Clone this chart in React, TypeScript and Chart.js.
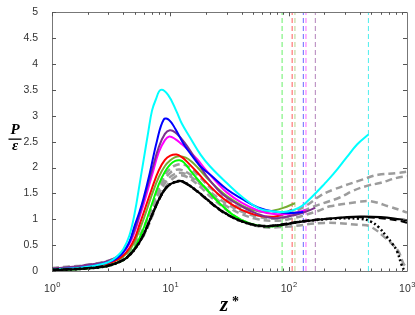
import React, { useEffect, useRef } from "react";
import { Chart, registerables } from "chart.js";

Chart.register(...registerables);

// ---- axis ticks ----
const xMajorTicks = [1, 10, 100, 1000];
const xTickExponents = ["0", "1", "2", "3"];
const yTickValues = [0, 0.5, 1, 1.5, 2, 2.5, 3, 3.5, 4, 4.5, 5];

// ---- series data (z*, P/eps) ----
const cyanX = [1, 1.5, 2, 2.5, 3, 3.5, 4, 4.5, 5, 5.5, 6, 6.5, 7, 7.5, 8.3, 9.6, 11.3, 12.5, 14.5, 18, 21.7, 30, 41, 57, 75, 90, 110, 130, 160, 200, 240, 310, 380, 472];
const cyanY = [0.03, 0.05, 0.08, 0.12, 0.17, 0.27, 0.42, 0.68, 1.12, 1.68, 2.2, 2.68, 3.1, 3.3, 3.5, 3.4, 3.08, 2.85, 2.6, 2.25, 2.02, 1.7, 1.42, 1.2, 1.15, 1.14, 1.18, 1.26, 1.45, 1.68, 1.88, 2.2, 2.45, 2.64];

const blueX = [1, 1.5, 2, 2.5, 3, 3.5, 4, 4.5, 5, 5.5, 5.9, 6.7, 7.7, 8.8, 9.75, 11, 13, 15, 18, 22, 30, 40, 55, 75, 100, 133];
const blueY = [0.03, 0.05, 0.08, 0.12, 0.17, 0.24, 0.36, 0.56, 0.88, 1.15, 1.38, 1.89, 2.51, 2.93, 2.92, 2.75, 2.45, 2.25, 2.02, 1.85, 1.58, 1.4, 1.23, 1.15, 1.12, 1.14];

const purpleX = [1, 1.5, 2, 2.5, 3, 3.5, 4, 4.5, 5, 5.5, 6, 7, 8, 9, 9.9, 11, 12.5, 14, 17, 20, 25, 30, 40, 55, 75, 96, 130, 168];
const purpleY = [0.05, 0.08, 0.12, 0.15, 0.2, 0.27, 0.38, 0.55, 0.8, 1.1, 1.4, 1.95, 2.4, 2.65, 2.72, 2.68, 2.55, 2.4, 2.1, 1.85, 1.58, 1.42, 1.25, 1.1, 1.02, 1.05, 1.12, 1.22];

const magentaX = [1, 1.5, 2, 2.5, 3, 3.5, 4, 4.5, 5, 5.5, 6, 7, 8, 9, 9.8, 11, 12.5, 14, 17, 20, 25, 30, 40, 55, 75, 100, 140];
const magentaY = [0.04, 0.06, 0.1, 0.13, 0.18, 0.26, 0.36, 0.52, 0.76, 1.05, 1.32, 1.85, 2.3, 2.53, 2.6, 2.55, 2.45, 2.35, 2.15, 1.95, 1.7, 1.52, 1.32, 1.17, 1.1, 1.1, 1.18];

const redX = [1, 1.5, 2, 2.5, 3, 3.5, 4, 4.5, 5, 5.5, 6, 7, 8, 9, 10, 11.3, 12.5, 14, 17, 20, 25, 30, 40, 55, 75, 90, 107];
const redY = [0.03, 0.05, 0.08, 0.11, 0.15, 0.21, 0.3, 0.44, 0.63, 0.9, 1.15, 1.6, 1.95, 2.15, 2.23, 2.25, 2.2, 2.1, 1.9, 1.72, 1.5, 1.35, 1.18, 1.07, 1.05, 1.1, 1.19];

const oliveX = [1, 1.5, 2, 2.5, 3, 3.5, 4, 4.5, 5, 5.5, 6, 7, 8, 9, 10, 11, 12, 13.5, 15, 17, 20, 25, 30, 40, 50, 61, 75, 90, 113];
const oliveY = [0.03, 0.05, 0.08, 0.11, 0.15, 0.2, 0.28, 0.4, 0.57, 0.8, 1.03, 1.48, 1.82, 2.03, 2.14, 2.2, 2.22, 2.19, 2.12, 2.0, 1.82, 1.6, 1.45, 1.27, 1.18, 1.14, 1.17, 1.22, 1.31];

const greenX = [1, 1.5, 2, 2.5, 3, 3.5, 4, 4.5, 5, 5.5, 6, 7, 8, 9, 10, 11, 12, 13, 15, 17.8, 21.7, 25, 34, 47, 65, 88];
const greenY = [0.02, 0.03, 0.05, 0.07, 0.1, 0.15, 0.21, 0.31, 0.45, 0.64, 0.85, 1.3, 1.68, 1.92, 2.06, 2.13, 2.14, 2.1, 1.92, 1.72, 1.5, 1.35, 1.08, 0.92, 0.86, 0.88];

const blackX = [1, 1.5, 2, 2.5, 3, 3.5, 4, 4.5, 5, 5.5, 6, 7, 8, 9, 10, 11.7, 13, 15, 17.8, 20.3, 25, 30, 40, 57, 80, 125, 237, 400, 600, 870, 1000];
const blackY = [0.02, 0.03, 0.05, 0.07, 0.1, 0.15, 0.21, 0.3, 0.42, 0.56, 0.72, 1.08, 1.38, 1.58, 1.68, 1.74, 1.72, 1.63, 1.5, 1.39, 1.22, 1.1, 0.96, 0.87, 0.88, 0.95, 1.02, 1.05, 1.04, 1.0, 0.98];

const blackDashX = [1, 1.5, 2, 2.5, 3, 3.5, 4, 4.5, 5, 5.5, 6, 7, 8, 9, 10, 11.7, 13, 15, 17.8, 20.3, 25, 30, 40, 57, 80, 125, 237, 400, 600, 870, 1000];
const blackDashY = [0.03, 0.04, 0.06, 0.08, 0.11, 0.16, 0.22, 0.31, 0.43, 0.57, 0.73, 1.08, 1.37, 1.57, 1.67, 1.73, 1.71, 1.62, 1.49, 1.38, 1.21, 1.09, 0.96, 0.88, 0.89, 0.96, 1.02, 1.04, 1.02, 0.97, 0.93];

const blackDotX = [1, 1.5, 2, 2.5, 3, 3.5, 4, 4.5, 5, 5.5, 6, 7, 8, 9, 10, 11.7, 13, 15, 17.8, 20.3, 25, 30, 40, 57, 80, 125, 237, 400, 490, 580, 670, 750, 820, 900, 950];
const blackDotY = [0.02, 0.03, 0.05, 0.07, 0.1, 0.15, 0.21, 0.3, 0.42, 0.56, 0.72, 1.08, 1.38, 1.58, 1.68, 1.74, 1.72, 1.63, 1.5, 1.39, 1.22, 1.1, 0.96, 0.87, 0.88, 0.95, 1.01, 1.01, 0.96, 0.84, 0.67, 0.53, 0.39, 0.12, 0.0];

const grey1X = [1, 1.5, 2, 3, 4, 5, 6, 7, 8, 9, 10, 11, 13, 15, 18, 22, 30, 40, 55, 75, 100, 142, 184, 237, 425, 570, 820, 1000];
const grey1Y = [0.06, 0.09, 0.12, 0.2, 0.32, 0.53, 0.86, 1.25, 1.6, 1.85, 1.98, 2.04, 2.06, 1.97, 1.8, 1.6, 1.37, 1.2, 1.08, 1.04, 1.1, 1.27, 1.45, 1.57, 1.77, 1.86, 1.89, 1.92];

const grey2X = [1, 1.5, 2, 3, 4, 5, 6, 7, 8, 9, 10, 11, 12, 14, 17, 20, 25, 30, 40, 55, 75, 100, 160, 270, 350, 466, 590, 820, 1000];
const grey2Y = [0.05, 0.08, 0.11, 0.19, 0.3, 0.49, 0.8, 1.2, 1.55, 1.78, 1.9, 1.95, 1.96, 1.9, 1.75, 1.6, 1.42, 1.3, 1.15, 1.05, 1.01, 1.05, 1.24, 1.42, 1.55, 1.65, 1.7, 1.8, 1.83];

const grey3X = [1, 1.5, 2, 3, 4, 5, 6, 7, 8, 9, 10, 11, 12, 14, 17, 20, 25, 30, 40, 55, 75, 100, 172, 224, 380, 490, 720, 870, 1000];
const grey3Y = [0.05, 0.08, 0.11, 0.19, 0.29, 0.48, 0.78, 1.15, 1.48, 1.7, 1.82, 1.88, 1.9, 1.86, 1.72, 1.58, 1.38, 1.25, 1.1, 1.0, 0.97, 1.0, 1.15, 1.25, 1.33, 1.35, 1.24, 1.18, 1.13];

const grey4X = [1, 1.5, 2, 3, 4, 5, 6, 7, 8, 9, 10, 11, 12, 13, 15, 18, 22, 30, 40, 60, 100, 200, 400, 490, 670, 840, 930, 1000];
const grey4Y = [0.05, 0.08, 0.11, 0.18, 0.27, 0.44, 0.7, 1.05, 1.38, 1.6, 1.74, 1.82, 1.85, 1.84, 1.77, 1.62, 1.43, 1.18, 0.98, 0.85, 0.86, 0.93, 0.89, 0.86, 0.62, 0.39, 0.15, 0.05];

// vertical dashed markers
const vlineX = [88, 107, 113, 133, 140, 168, 472];
const vlineColors = [
  "rgba(0,230,0,0.6)",
  "rgba(255,0,0,0.65)",
  "rgba(119,172,48,0.55)",
  "rgba(0,0,255,0.6)",
  "rgba(255,0,255,0.6)",
  "rgba(126,47,142,0.6)",
  "rgba(0,230,230,0.7)",
];

const pts = (xs: number[], ys: number[]) => xs.map((x, i) => ({ x, y: ys[i] }));

const axisPlugin = {
  id: "matlabAxes",
  afterDraw(chart: any) {
    const { ctx, chartArea } = chart;
    const xs = chart.scales.x;
    const ys = chart.scales.y;
    const { left, right, top, bottom } = chartArea;
    ctx.save();
    ctx.strokeStyle = "#777";
    ctx.lineWidth = 1;
    ctx.beginPath();
    ctx.rect(Math.round(left) + 0.5, Math.round(top) + 0.5, Math.round(right - left), Math.round(bottom - top));
    ctx.stroke();
    ctx.strokeStyle = "#555";
    ctx.beginPath();
    yTickValues.forEach((v) => {
      const py = Math.round(ys.getPixelForValue(v)) + 0.5;
      ctx.moveTo(left, py);
      ctx.lineTo(left + 4, py);
      ctx.moveTo(right, py);
      ctx.lineTo(right - 4, py);
    });
    for (let d = 0; d < 3; d++) {
      for (let m = 1; m <= 9; m++) {
        const v = m * Math.pow(10, d);
        const px = Math.round(xs.getPixelForValue(v)) + 0.5;
        const len = m === 1 ? 4 : 2.5;
        ctx.moveTo(px, bottom);
        ctx.lineTo(px, bottom - len);
        ctx.moveTo(px, top);
        ctx.lineTo(px, top + len);
      }
    }
    ctx.stroke();

    ctx.fillStyle = "#333";
    ctx.textBaseline = "alphabetic";
    ctx.textAlign = "left";
    xMajorTicks.forEach((v, i) => {
      const px = xs.getPixelForValue(v);
      ctx.font = "10.5px 'Liberation Sans', Arial, sans-serif";
      const wb = ctx.measureText("10").width;
      ctx.font = "7.5px 'Liberation Sans', Arial, sans-serif";
      const we = ctx.measureText(xTickExponents[i]).width;
      const start = px - (wb + we) / 2;
      ctx.font = "10.5px 'Liberation Sans', Arial, sans-serif";
      ctx.fillText("10", start, 292);
      ctx.font = "7.5px 'Liberation Sans', Arial, sans-serif";
      ctx.fillText(xTickExponents[i], start + wb + 0.5, 286.5);
    });

    ctx.fillStyle = "#000";
    ctx.textAlign = "center";
    ctx.font = "bold italic 15px 'Liberation Serif', 'DejaVu Serif', serif";
    ctx.fillText("P", 15, 134);
    ctx.fillRect(8.5, 138.5, 13, 1.3);
    ctx.fillText("\u03B5", 15, 150);

    ctx.font = "bold italic 21px 'Liberation Serif', 'DejaVu Serif', serif";
    ctx.textAlign = "left";
    ctx.fillText("z", 220, 311);
    ctx.font = "bold 14px 'Liberation Serif', 'DejaVu Serif', serif";
    ctx.fillText("*", 232, 306);
    ctx.restore();
  },
};

export default function App() {
  const ref = useRef<HTMLCanvasElement | null>(null);
  useEffect(() => {
    if (!ref.current) return;
    const solid = (label: string, xs: number[], ys: number[], color: string, w = 2) => ({
      label,
      data: pts(xs, ys),
      borderColor: color,
      backgroundColor: color,
      borderWidth: w,
      pointRadius: 0,
      fill: false,
      tension: 0.4,
    });
    const greyDash = (label: string, xs: number[], ys: number[]) => ({
      ...solid(label, xs, ys, "#9c9c9c", 2.5),
      borderDash: [7, 4],
    });
    const datasets: any[] = [
      { ...solid("black dotted", blackDotX, blackDotY, "#000", 2.5), borderDash: [2, 2.5] },
      solid("black", blackX, blackY, "#000", 2.2),
      { ...solid("black dashed", blackDashX, blackDashY, "#000", 2), borderDash: [7, 4] },
      solid("cyan", cyanX, cyanY, "#00FFFF", 2),
      solid("blue", blueX, blueY, "#0000FF", 2),
      solid("purple", purpleX, purpleY, "#7E2F8E", 2),
      solid("magenta", magentaX, magentaY, "#FF00FF", 2),
      solid("red", redX, redY, "#FF0000", 2),
      solid("olive", oliveX, oliveY, "#77AC30", 2),
      solid("green", greenX, greenY, "#00FF00", 2),
      greyDash("grey 1", grey1X, grey1Y),
      greyDash("grey 2", grey2X, grey2Y),
      greyDash("grey 3", grey3X, grey3Y),
      greyDash("grey 4", grey4X, grey4Y),
      ...vlineX.map((v, i) => ({
        label: "marker " + i,
        data: [
          { x: v, y: 0 },
          { x: v, y: 5 },
        ],
        borderColor: vlineColors[i],
        borderWidth: 1,
        borderDash: [5, 3],
        pointRadius: 0,
        fill: false,
      })),
    ];
    const chart = new Chart(ref.current, {
      type: "line",
      data: { datasets },
      options: {
        animation: false,
        responsive: false,
        maintainAspectRatio: false,
        layout: { padding: { top: 4, right: 8, left: 0, bottom: 0 } },
        plugins: { legend: { display: false }, tooltip: { enabled: false } },
        scales: {
          x: {
            type: "logarithmic",
            min: 1,
            max: 1000,
            grid: { display: false },
            border: { display: false },
            ticks: { display: false },
            afterFit: (s: any) => {
              s.height = 44;
            },
          },
          y: {
            type: "linear",
            min: 0,
            max: 5,
            grid: { display: false },
            border: { display: false },
            ticks: {
              stepSize: 0.5,
              padding: 6,
              color: "#333",
              font: { family: "'Liberation Sans', Arial, sans-serif", size: 10.5 },
              callback: (v: any) => String(v),
            },
            afterFit: (s: any) => {
              s.width = 52;
            },
          },
        },
      } as any,
      plugins: [axisPlugin],
    });
    return () => chart.destroy();
  }, []);
  return (
    <div style={{ position: "fixed", left: 0, top: 0, width: 415, height: 315, background: "#fff" }}>
      <canvas ref={ref} width={415} height={315} style={{ display: "block" }} />
    </div>
  );
}
